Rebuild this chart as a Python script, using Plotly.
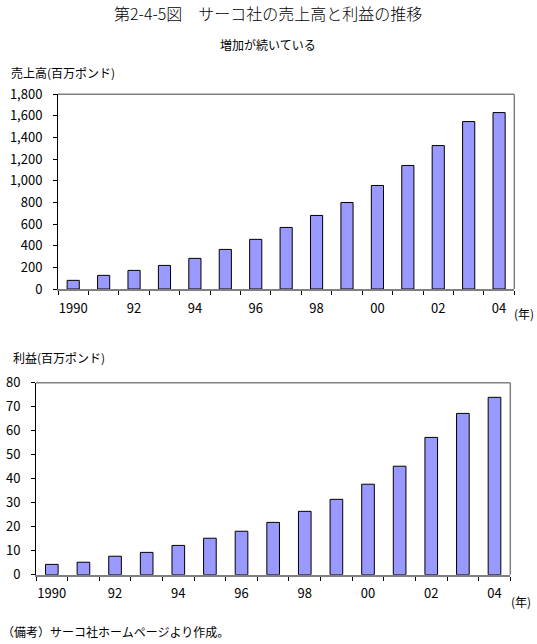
import plotly.graph_objects as go

years = list(range(1990, 2005))
sales = [80, 126, 172, 218, 283, 366, 459, 569, 680, 800, 957, 1142, 1326, 1548, 1631]
profit = [4.3, 5.2, 7.7, 9.3, 12.2, 15.2, 18.1, 21.8, 26.4, 31.4, 37.7, 45.2, 57.2, 67.2, 73.9]
tick_years = [1990, 1992, 1994, 1996, 1998, 2000, 2002, 2004]
tick_text = ["1990", "92", "94", "96", "98", "00", "02", "04"]
sales_ticks = [0, 200, 400, 600, 800, 1000, 1200, 1400, 1600, 1800]
sales_tick_text = ["0", "200", "400", "600", "800", "1,000", "1,200", "1,400", "1,600", "1,800"]
profit_ticks = [0, 10, 20, 30, 40, 50, 60, 70, 80]

FONT = "Noto Sans CJK JP"
BAR = "#9999FF"
W, H = 537, 644

fig = go.Figure()
fig.add_trace(go.Bar(x=years, y=sales, xaxis="x", yaxis="y",
                     marker=dict(color=BAR, line=dict(color="black", width=1)),
                     width=0.4, hoverinfo="x+y"))
fig.add_trace(go.Bar(x=years, y=profit, xaxis="x2", yaxis="y2",
                     marker=dict(color=BAR, line=dict(color="black", width=1)),
                     width=0.4, hoverinfo="x+y"))

boundaries = [y - 0.5 for y in years] + [2004.5]

def xaxis(domain, anchor):
    return dict(domain=domain, anchor=anchor, range=[1989.5, 2004.5], automargin=False,
                tickvals=tick_years, ticktext=tick_text, ticks="",
                ticklabelstandoff=6,
                showline=True, linecolor="#808080", linewidth=2,
                showgrid=False, zeroline=False,
                tickfont=dict(family=FONT, size=13, color="black"),
                minor=dict(tickvals=boundaries, ticks="outside", ticklen=4,
                           tickcolor="black", tickwidth=1, showgrid=False))

def yaxis(domain, anchor, rng, tv, tt):
    return dict(domain=domain, anchor=anchor, range=rng, tickvals=tv, ticktext=tt,
                automargin=False, ticks="outside", ticklen=4, tickcolor="black",
                ticklabelstandoff=8,
                showline=True, linecolor="black", linewidth=1,
                showgrid=False, zeroline=False,
                tickfont=dict(family=FONT, size=13, color="black"))

fig.update_layout(
    width=W, height=H, margin=dict(l=0, r=0, t=0, b=0, pad=0, autoexpand=False),
    paper_bgcolor="white", plot_bgcolor="white", showlegend=False,
    xaxis=xaxis([58 / W, 514.3 / W], "y"),
    yaxis=yaxis([1 - 289 / H, 1 - 94.3 / H], "x", [0, 1800], sales_ticks, sales_tick_text),
    xaxis2=xaxis([36 / W, 510.3 / W], "y2"),
    yaxis2=yaxis([1 - 574.7 / H, 1 - 382.7 / H], "x2", [0, 80], profit_ticks,
                 [str(v) for v in profit_ticks]),
    font=dict(family=FONT, color="black"),
)

# gray frame on top and right
for xr, yr in (("x domain", "y domain"), ("x2 domain", "y2 domain")):
    fig.add_shape(type="line", xref=xr, yref=yr, x0=0, x1=1, y0=1, y1=1,
                  line=dict(color="#808080", width=1.5))
    fig.add_shape(type="line", xref=xr, yref=yr, x0=1, x1=1, y0=0, y1=1,
                  line=dict(color="#808080", width=1.5))

def txt(x, y, s, size=12, xanchor="left", weight="normal"):
    fig.add_annotation(x=x / W, y=1 - y / H, xref="paper", yref="paper", text=s,
                       showarrow=False, xanchor=xanchor, yanchor="middle",
                       font=dict(family=FONT, size=size, color="black", weight=weight))

txt(268, 13, "第2-4-5図　サーコ社の売上高と利益の推移", size=16, xanchor="center", weight=300)
txt(268, 44, "増加が続いている", size=12, xanchor="center")
txt(9, 72, "売上高(百万ポンド)", size=12)
txt(11, 357, "利益(百万ポンド)", size=12)
txt(512, 313, "(年)", size=12)
txt(509, 601, "(年)", size=12)
txt(0, 631, "（備考）サーコ社ホームページより作成。", size=12)

fig.write_html("out.html")
